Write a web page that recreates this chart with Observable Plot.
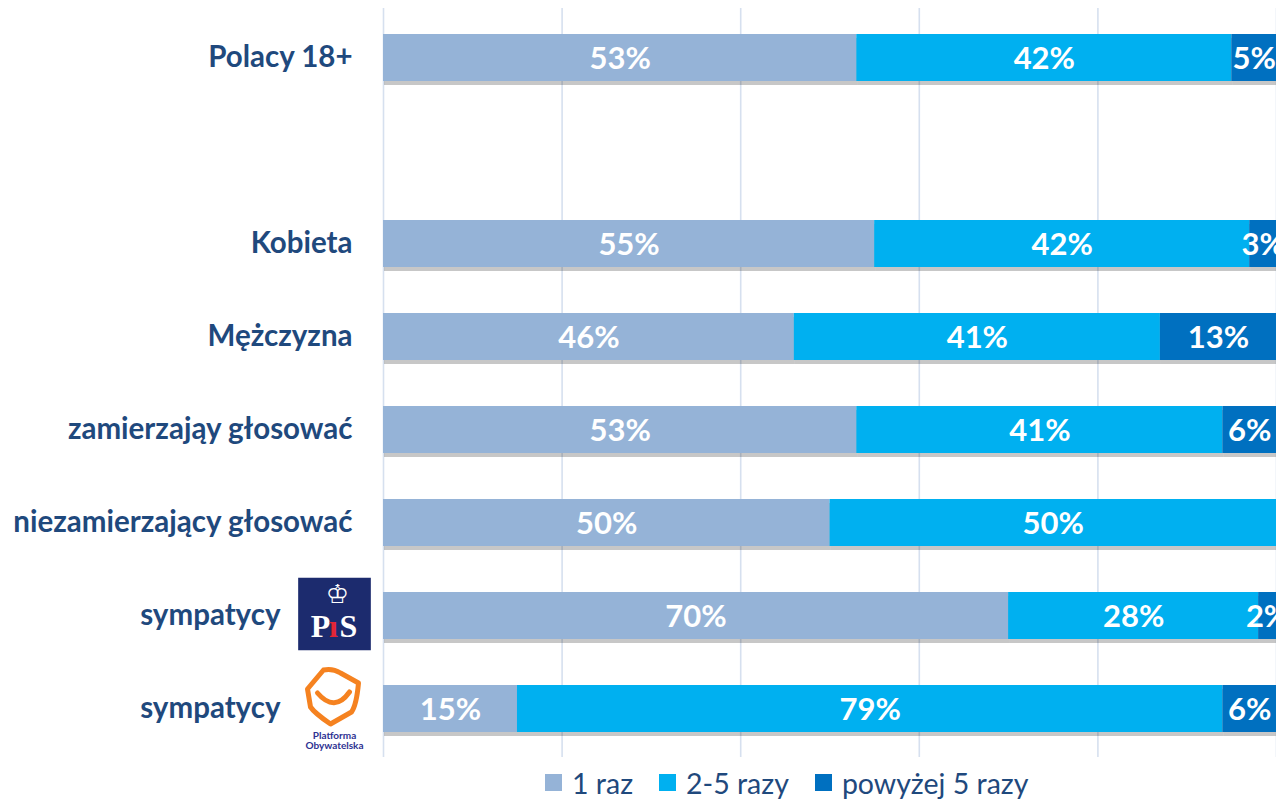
<!DOCTYPE html>
<html><head><meta charset="utf-8">
<script src="https://cdn.jsdelivr.net/npm/d3@7"></script>
<script src="https://cdn.jsdelivr.net/npm/@observablehq/plot@0.6"></script>
<style>
body{margin:0;background:#fff;font-family:Lato,"Open Sans",sans-serif;}
#chart svg{display:block;overflow:hidden}
.legend{display:flex;align-items:center;height:41px;padding-left:545px;font-size:28.5px;color:#1f497d;}
.item{display:flex;align-items:center;margin-right:26px}
.sw{width:17px;height:17px;margin-right:10px}
</style></head><body>
<div id="chart"></div>
<div class="legend" id="legend"></div>
<script>
// Rows (keys) and their displayed labels
const rowKeys = ["Polacy 18+", "blank", "Kobieta", "Mężczyzna", "zamierzająy głosować", "niezamierzający głosować", "sympatycy PiS", "sympatycy PO"];
const rowLabels = ["Polacy 18+", "", "Kobieta", "Mężczyzna", "zamierzająy głosować", "niezamierzający głosować", "sympatycy", "sympatycy"];
const dataRows = ["Polacy 18+", "Kobieta", "Mężczyzna", "zamierzająy głosować", "niezamierzający głosować", "sympatycy PiS", "sympatycy PO"];

const seriesNames = ["1 raz", "2-5 razy", "powyżej 5 razy"];
const seriesColors = ["#95b3d7", "#00b0f0", "#0070c0"];

const raz1 = [53, 55, 46, 53, 50, 70, 15];
const raz2_5 = [42, 42, 41, 41, 50, 28, 79];
const raz5plus = [5, 3, 13, 6, 0, 2, 6];

const xTicks = [0, 20, 40, 60, 80, 100];

const seriesValues = [raz1, raz2_5, raz5plus];
const data = [];
dataRows.forEach((r, i) => {
  seriesNames.forEach((s, j) => data.push({group: r, series: s, value: seriesValues[j][i]}));
});
const labelData = rowKeys.map((k, i) => ({key: k, label: rowLabels[i]}));
const plainLabels = labelData.filter(d => !d.key.startsWith("sympatycy") && d.label);
const logoLabels = labelData.filter(d => d.key.startsWith("sympatycy"));
const pisRow = logoLabels.filter(d => d.key === "sympatycy PiS");
const poRow = logoLabels.filter(d => d.key === "sympatycy PO");

const labelFont = "Lato, 'Open Sans', sans-serif";

// custom PO logo symbol
const poSymbol = {
  draw(ctx, size) {
    const r = Math.sqrt(size / Math.PI);
    const s = r / 20;
    ctx.moveTo(-25*s, -8*s);
    ctx.lineTo(-9*s, -27*s);
    ctx.quadraticCurveTo(0, -29*s, 8*s, -24*s);
    ctx.lineTo(26*s, -14*s);
    ctx.quadraticCurveTo(24*s, 8*s, 19*s, 15*s);
    ctx.lineTo(-2*s, 27*s);
    ctx.quadraticCurveTo(-18*s, 16*s, -22*s, 10*s);
    ctx.closePath();
    ctx.moveTo(-15*s, -4*s);
    ctx.quadraticCurveTo(2*s, 16*s, 17*s, -5*s);
  }
};

const pisLetter = (t, dx, color) => Plot.text(pisRow, {y: "key", frameAnchor: "left", textAnchor: "middle", dx, dy: 11,
  text: () => t, fill: color, fontSize: 32, fontWeight: "bold", fontFamily: "'Liberation Serif', serif"});

const chart = Plot.plot({
  width: 1276,
  height: 762,
  marginLeft: 383,
  marginRight: 0,
  marginTop: 8,
  marginBottom: 5,
  style: {fontFamily: labelFont, background: "#fff"},
  x: {domain: [0, 100], axis: null},
  y: {domain: rowKeys, axis: null, paddingInner: 0.5, paddingOuter: 0.25},
  color: {domain: seriesNames, range: seriesColors},
  marks: [
    Plot.ruleX(xTicks, {stroke: "#d6e0ef", strokeWidth: 1.6}),
    Plot.barX(data, Plot.stackX({x: "value", y: "group", fill: "#000", fillOpacity: 0.22, dy: 4, dx: 1, order: seriesNames, z: "series", ariaLabel: "shadow"})),
    Plot.barX(data, Plot.stackX({x: "value", y: "group", fill: "series", order: seriesNames})),
    Plot.text(data, Plot.stackX({
      x: "value", y: "group", z: "series", order: seriesNames,
      text: d => d.value > 0 ? d.value + "%" : null,
      fill: "white", fontSize: 31, fontWeight: "bold", dy: 1
    })),
    Plot.text(plainLabels, {y: "key", text: "label", frameAnchor: "left", textAnchor: "end", dx: -31,
      fill: "#1f497d", fontSize: 29.5, fontWeight: "bold"}),
    Plot.text(logoLabels, {y: "key", text: "label", frameAnchor: "left", textAnchor: "end", dx: -103,
      fill: "#1f497d", fontSize: 29.5, fontWeight: "bold"}),
    // PiS logo
    Plot.dot(pisRow, {y: "key", frameAnchor: "left", dx: -49, dy: -2,
      symbol: "square", r: 41, fill: "#1c2b6e", stroke: "none"}),
    pisLetter("P", -63, "white"),
    pisLetter("ı", -50, "#e32636"),
    pisLetter("S", -35, "white"),
    Plot.text(pisRow, {y: "key", frameAnchor: "left", textAnchor: "middle", dx: -46, dy: -21,
      text: () => "♔", fill: "white", fontSize: 26, fontFamily: "'DejaVu Sans'"}),
    // PO logo
    Plot.dot(poRow, {y: "key", frameAnchor: "left", dx: -51, dy: -12,
      symbol: poSymbol, r: 20, fill: "none", stroke: "#f58220", strokeWidth: 5, strokeLinejoin: "round", strokeLinecap: "round"}),
    Plot.text(poRow, {y: "key", frameAnchor: "left", textAnchor: "middle", dx: -49, dy: 32,
      text: () => "Platforma\nObywatelska", lineHeight: 0.95, fill: "#2e3192", fontSize: 10, fontWeight: "bold"})
  ]
});
document.getElementById("chart").appendChild(chart);

// soft blur for the shadow bars
const ns = "http://www.w3.org/2000/svg";
const defs = document.createElementNS(ns, "defs");
const filt = document.createElementNS(ns, "filter");
filt.setAttribute("id", "barShadow");
filt.setAttribute("x", "-5%"); filt.setAttribute("y", "-20%");
filt.setAttribute("width", "110%"); filt.setAttribute("height", "140%");
const blur = document.createElementNS(ns, "feGaussianBlur");
blur.setAttribute("stdDeviation", "3");
filt.appendChild(blur);
defs.appendChild(filt);
chart.insertBefore(defs, chart.firstChild);
const sh = chart.querySelector('g[aria-label="shadow"]');
if (sh) sh.setAttribute("filter", "url(#barShadow)");

const legend = document.getElementById("legend");
seriesNames.forEach((s, i) => {
  const it = document.createElement("div");
  it.className = "item";
  it.innerHTML = `<span class="sw" style="background:${seriesColors[i]}"></span><span>${s}</span>`;
  legend.appendChild(it);
});
</script>
</body></html>
